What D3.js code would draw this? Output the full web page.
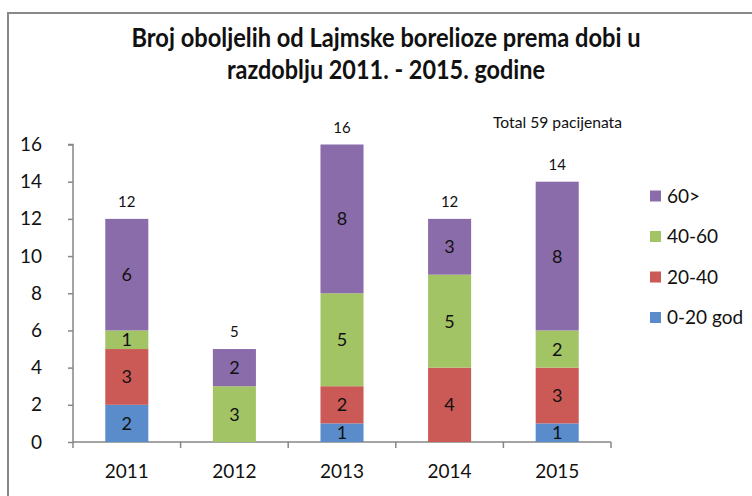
<!DOCTYPE html>
<html>
<head>
<meta charset="utf-8">
<script src="https://cdn.jsdelivr.net/npm/d3@7"></script>
<style>
  body { margin: 0; background: #fff; }
  text { font-family: Lato, "Open Sans", sans-serif; fill: #111; }
</style>
</head>
<body>
<svg id="chart" width="752" height="496"></svg>
<script>
// Chart data
const years = ['2011', '2012', '2013', '2014', '2015']
const groups = ['0-20 god', '20-40', '40-60', '60>']
const age0to20 = [2, 0, 1, 0, 1]
const age20to40 = [3, 0, 2, 4, 3]
const age40to60 = [1, 3, 5, 5, 2]
const age60plus = [6, 2, 8, 3, 8]
const yTicks = [0, 2, 4, 6, 8, 10, 12, 14, 16]
const titleLines = ['Broj oboljelih od Lajmske borelioze prema dobi u', 'razdoblju  2011. - 2015. godine']
const note = 'Total 59 pacijenata'

const colors = ['#5a8bca', '#cb5a56', '#a3c465', '#8a6caa']

let svg = d3.select('#chart')

// Rows for the stack
let rows = years.map((y, i) => ({
  year: y,
  '0-20 god': age0to20[i],
  '20-40': age20to40[i],
  '40-60': age40to60[i],
  '60>': age60plus[i]
}))

let series = d3.stack().keys(groups)(rows)

let x = d3.scaleBand()
    .domain(years)
    .range([73, 611])
    .paddingInner(0.6)
    .paddingOuter(0.3)

let y = d3.scaleLinear()
    .domain([0, 16])
    .range([442, 144.5])

// Outer frame
svg.append('path')
  .attr('d', 'M8,496V13H752')
  .attr('fill', 'none')
  .attr('stroke', '#888')
  .attr('stroke-width', 2)

// Title
svg.selectAll('.title')
  .data(titleLines)
  .enter().append('text')
  .attr('class', 'title')
  .attr('x', 386)
  .attr('y', (d, i) => 47 + i * 32)
  .attr('text-anchor', 'middle')
  .attr('textLength', (d, i) => i === 0 ? 509 : 318)
  .attr('lengthAdjust', 'spacingAndGlyphs')
  .style('font-size', '27px')
  .style('font-weight', 'bold')
  .text(d => d)

svg.append('text')
  .attr('x', 493)
  .attr('y', 128)
  .attr('textLength', 129)
  .attr('lengthAdjust', 'spacingAndGlyphs')
  .style('font-size', '15px')
  .text(note)

// Y axis
let yAxis = d3.axisLeft(y)
    .tickValues(yTicks)
    .tickSize(5)
    .tickPadding(26)

let gy = svg.append('g')
    .attr('transform', 'translate(73,0)')
    .call(yAxis)
gy.selectAll('path, line').attr('stroke', '#868686').attr('stroke-width', 1.5)
gy.select('.domain').attr('d', 'M-5,' + y(16) + 'H0V' + y(0))
gy.selectAll('text')
  .style('font-family', 'Lato, sans-serif')
  .style('font-size', '19px')
  .attr('fill', '#111')

// X axis, ticks between categories
let gx = svg.append('g')
gx.append('line')
  .attr('x1', 73).attr('x2', 611)
  .attr('y1', y(0)).attr('y2', y(0))
  .attr('stroke', '#868686').attr('stroke-width', 1.5)
let bounds = years.map(d => x(d) - x.step() * x.paddingOuter()).concat([611])
gx.selectAll('.xtick')
  .data(bounds)
  .enter().append('line')
  .attr('x1', d => d).attr('x2', d => d)
  .attr('y1', y(0)).attr('y2', y(0) + 6)
  .attr('stroke', '#868686').attr('stroke-width', 1.5)
gx.selectAll('.xlabel')
  .data(years)
  .enter().append('text')
  .attr('x', d => x(d) + x.bandwidth() / 2)
  .attr('y', 478)
  .attr('text-anchor', 'middle')
  .style('font-size', '19px')
  .text(d => d)

// Bars
let layer = svg.selectAll('.layer')
  .data(series)
  .enter().append('g')
  .attr('fill', (d, i) => colors[i])

layer.selectAll('rect')
  .data(d => d.filter(s => s[1] > s[0]))
  .enter().append('rect')
  .attr('x', d => x(d.data.year))
  .attr('y', d => y(d[1]))
  .attr('width', x.bandwidth())
  .attr('height', d => y(d[0]) - y(d[1]))

// Segment labels
layer.selectAll('text')
  .data(d => d.filter(s => s[1] > s[0]))
  .enter().append('text')
  .attr('x', d => x(d.data.year) + x.bandwidth() / 2)
  .attr('y', d => (y(d[0]) + y(d[1])) / 2)
  .attr('dy', '0.36em')
  .attr('text-anchor', 'middle')
  .style('font-size', '18px')
  .text(d => d[1] - d[0])

// Totals
let topLayer = series[series.length - 1]
svg.selectAll('.total')
  .data(topLayer)
  .enter().append('text')
  .attr('x', d => x(d.data.year) + x.bandwidth() / 2)
  .attr('y', d => y(d[1]) - 12)
  .attr('text-anchor', 'middle')
  .style('font-size', '15px')
  .text(d => d[1])

// Legend
let legend = svg.selectAll('.legend')
  .data(groups.slice().reverse())
  .enter().append('g')
  .attr('transform', (d, i) => 'translate(650,' + (196 + i * 40.5) + ')')

legend.append('rect')
  .attr('y', -5.5)
  .attr('width', 11)
  .attr('height', 11)
  .attr('fill', (d, i) => colors[groups.length - 1 - i])

legend.append('text')
  .attr('x', 17)
  .attr('dy', '0.36em')
  .style('font-size', '19px')
  .text(d => d)
</script>
</body>
</html>
